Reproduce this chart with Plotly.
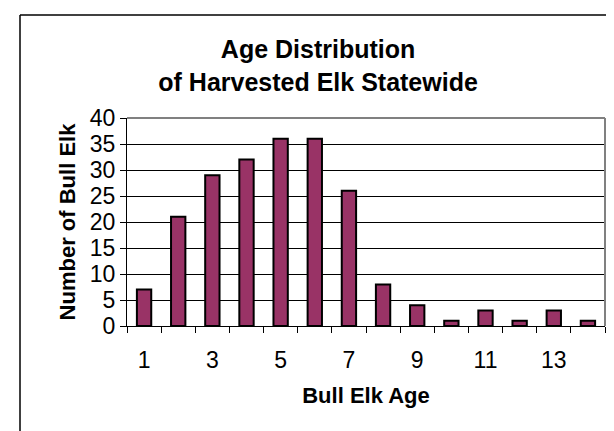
import plotly.graph_objects as go

ages = [1, 2, 3, 4, 5, 6, 7, 8, 9, 10, 11, 12, 13, 14]
counts = [7, 21, 29, 32, 36, 36, 26, 8, 4, 1, 3, 1, 3, 1]
x_tick_vals = [1, 3, 5, 7, 9, 11, 13]
x_tick_text = ["1", "3", "5", "7", "9", "11", "13"]
y_tick_vals = [0, 5, 10, 15, 20, 25, 30, 35, 40]

FONT = "Liberation Sans, Arial, sans-serif"
BAR = "#993366"

boundaries = [a - 0.5 for a in ages] + [ages[-1] + 0.5]
xr = [ages[0] - 0.5, ages[-1] + 0.5]

fig = go.Figure()
fig.add_trace(go.Bar(
    x=ages, y=counts,
    marker=dict(color=BAR, line=dict(color="black", width=2)),
    width=0.42,
    showlegend=False,
))
# invisible trace on overlay axis for boundary ticks
fig.add_trace(go.Scatter(x=[xr[0]], y=[0], xaxis="x2", mode="markers",
                         marker=dict(opacity=0), showlegend=False, hoverinfo="skip"))

fig.update_layout(
    width=614, height=431,
    margin=dict(l=119, r=17, t=110, b=113),
    paper_bgcolor="white", plot_bgcolor="white",
    font=dict(family=FONT, color="black"),
    title=dict(
        text="<b>Age Distribution<br>of Harvested Elk Statewide</b>",
        x=0.505, xref="container", xanchor="center",
        y=1 - 50 / 431, yref="container", yanchor="middle",
        font=dict(size=25, family=FONT, color="black"),
    ),
    xaxis=dict(
        range=xr, tickmode="array", tickvals=x_tick_vals, ticktext=x_tick_text,
        ticks="", showgrid=False, zeroline=False,
        showline=True, linecolor="black", linewidth=1,
        tickfont=dict(size=23, family=FONT, color="black"),
        ticklabelstandoff=13,
        title=dict(text="<b>Bull Elk Age</b>", font=dict(size=22, family=FONT, color="black"), standoff=16),
    ),
    xaxis2=dict(
        overlaying="x", range=xr, tickmode="array", tickvals=boundaries,
        ticks="outside", ticklen=6, tickcolor="black", tickwidth=1,
        showticklabels=False, showgrid=False, zeroline=False, showline=False,
        anchor="y", side="bottom",
    ),
    yaxis=dict(
        range=[0, 40], tickmode="array", tickvals=y_tick_vals,
        ticks="outside", ticklen=6, tickcolor="black", tickwidth=1,
        showgrid=True, gridcolor="black", gridwidth=1,
        zeroline=False, showline=True, linecolor="black", linewidth=1,
        tickfont=dict(size=23, family=FONT, color="black"),
        title=dict(text="<b>Number of Bull Elk</b>", font=dict(size=22, family=FONT, color="black"), standoff=8),
    ),
    shapes=[
        dict(type="line", xref="paper", yref="paper", x0=0, x1=1, y0=1, y1=1,
             line=dict(color="#808080", width=2)),
        dict(type="line", xref="paper", yref="paper", x0=1, x1=1, y0=0, y1=1,
             line=dict(color="#808080", width=2)),
        dict(type="line", xref="paper", yref="paper",
             x0=(12 - 119) / 478, x1=(609 - 119) / 478,
             y0=1 + (110 - 7) / 208, y1=1 + (110 - 7) / 208,
             line=dict(color="black", width=1.5)),
        dict(type="line", xref="paper", yref="paper",
             x0=(12 - 119) / 478, x1=(12 - 119) / 478,
             y0=1 + (110 - 7) / 208, y1=-(431 - 318 + 5) / 208,
             line=dict(color="black", width=1.5)),
    ],
)

fig.write_html("out.html")
